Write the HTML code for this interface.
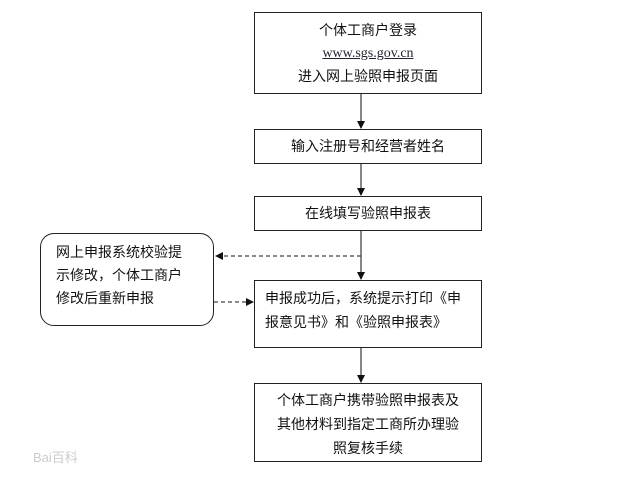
<!DOCTYPE html>
<html><head><meta charset="utf-8"><style>
body{margin:0;background:#fff;}
.w{position:relative;width:640px;height:498px;overflow:hidden;font-family:"Liberation Sans","Noto Sans CJK SC",sans-serif;color:#111;}
.b{position:absolute;border:1.5px solid #222;box-sizing:border-box;background:#fff;font-size:14px;line-height:22px;}
.c{text-align:center;}
</style></head><body><div class="w">
<svg width="640" height="498" style="position:absolute;left:0;top:0">
<defs><marker id="a" markerWidth="8" markerHeight="8" refX="7" refY="4" orient="auto" markerUnits="userSpaceOnUse"><path d="M0,0 L8,4 L0,8z" fill="#111"/></marker></defs>
<g stroke="#444" stroke-width="1.3" fill="none">
<line x1="361" y1="94" x2="361" y2="128" marker-end="url(#a)"/>
<line x1="361" y1="164" x2="361" y2="195" marker-end="url(#a)"/>
<line x1="361" y1="231" x2="361" y2="279" marker-end="url(#a)"/>
<line x1="361" y1="348" x2="361" y2="382" marker-end="url(#a)"/>
<line x1="361" y1="256" x2="216" y2="256" stroke-dasharray="4,3" marker-end="url(#a)"/>
<line x1="214" y1="302" x2="253" y2="302" stroke-dasharray="4,3" marker-end="url(#a)"/>
</g></svg>
<div class="b c" style="left:254px;top:12px;width:228px;height:82px;padding-top:6px">个体工商户登录<br><span style="font-family:'Liberation Serif',serif;color:#223;text-decoration:underline;font-size:14px">www.sgs.gov.cn</span><br>进入网上验照申报页面</div>
<div class="b c" style="left:254px;top:129px;width:228px;height:35px;padding-top:5px">输入注册号和经营者姓名</div>
<div class="b c" style="left:254px;top:196px;width:228px;height:35px;padding-top:5px">在线填写验照申报表</div>
<div class="b" style="left:40px;top:233px;width:174px;height:93px;border-radius:14px;padding:7px 0 0 15px;line-height:23px">网上申报系统校验提<br>示修改，个体工商户<br>修改后重新申报</div>
<div class="b" style="left:254px;top:280px;width:228px;height:68px;padding:5px 0 0 10px;line-height:24px">申报成功后，系统提示打印《申<br>报意见书》和《验照申报表》</div>
<div class="b c" style="left:254px;top:383px;width:228px;height:79px;padding-top:4px;line-height:24px">个体工商户携带验照申报表及<br>其他材料到指定工商所办理验<br>照复核手续</div>
<div style="position:absolute;left:33px;top:447px;font-size:13px;color:#ccc">Bai百科</div>
</div></body></html>
